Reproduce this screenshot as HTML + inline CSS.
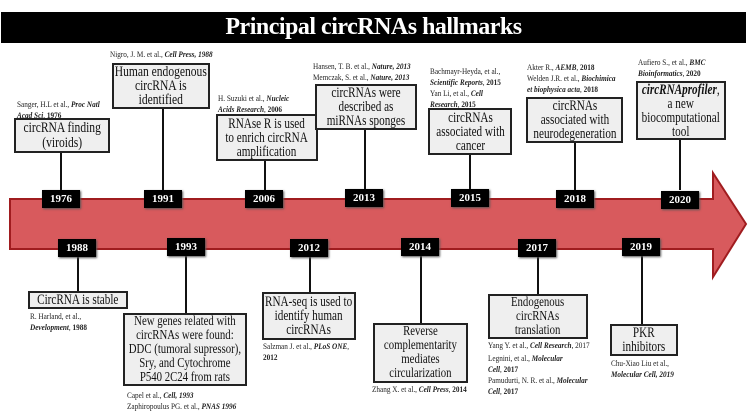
<!DOCTYPE html>
<html><head><meta charset="utf-8"><style>
body{margin:0;width:748px;height:420px;background:#fff;position:relative;overflow:hidden;font-family:"Liberation Serif",serif;}
.a{position:absolute;}
.box{position:absolute;background:#efefef;border:2px solid #222;box-sizing:border-box;text-align:center;color:#111;display:flex;align-items:center;justify-content:center;line-height:14px;}
.box>span{display:inline-block;white-space:nowrap;transform:scaleX(.77);}
.yr{position:absolute;background:#000;color:#fff;font-weight:bold;font-size:11px;width:38px;height:18px;line-height:18px;text-align:center;box-shadow:1px 1px 2px #555;}
.ln{position:absolute;width:2px;background:#111;}
.c{position:absolute;font-size:8.5px;line-height:11px;color:#222;white-space:nowrap;transform:scaleX(.85);transform-origin:0 0;}
.c b{font-style:italic;}
</style></head><body>
<div class="a" style="left:1px;top:12px;width:745px;height:31px;background:#000;color:#fff;font-weight:bold;font-size:24px;text-align:center;line-height:31px;letter-spacing:-0.5px">Principal circRNAs hallmarks</div>
<svg class="a" style="left:0;top:0" width="748" height="420"><polygon points="10,199 713,199 713,173 746,224 713,277 713,249 10,249" fill="#d85a5d" stroke="#a01c1f" stroke-width="2"/></svg>

<div class="ln" style="left:60px;top:152px;height:38px"></div>
<div class="ln" style="left:162px;top:108px;height:82px"></div>
<div class="ln" style="left:264px;top:160px;height:30px"></div>
<div class="ln" style="left:364px;top:129px;height:61px"></div>
<div class="ln" style="left:469px;top:154px;height:36px"></div>
<div class="ln" style="left:574px;top:142px;height:48px"></div>
<div class="ln" style="left:679px;top:139px;height:51px"></div>
<div class="ln" style="left:77px;top:256px;height:36px"></div>
<div class="ln" style="left:185px;top:256px;height:58px"></div>
<div class="ln" style="left:309px;top:256px;height:37px"></div>
<div class="ln" style="left:420px;top:256px;height:68px"></div>
<div class="ln" style="left:537px;top:256px;height:39px"></div>
<div class="ln" style="left:641px;top:256px;height:69px"></div>

<div class="yr" style="left:42px;top:190px">1976</div>
<div class="yr" style="left:144px;top:190px">1991</div>
<div class="yr" style="left:245px;top:190px">2006</div>
<div class="yr" style="left:345px;top:189px">2013</div>
<div class="yr" style="left:451px;top:189px">2015</div>
<div class="yr" style="left:556px;top:190px">2018</div>
<div class="yr" style="left:661px;top:191px">2020</div>
<div class="yr" style="left:58px;top:239px">1988</div>
<div class="yr" style="left:167px;top:238px">1993</div>
<div class="yr" style="left:290px;top:239px">2012</div>
<div class="yr" style="left:401px;top:238px">2014</div>
<div class="yr" style="left:518px;top:239px">2017</div>
<div class="yr" style="left:622px;top:238px">2019</div>

<div class="box" style="left:14px;top:118px;width:96px;height:35px;font-size:15px;line-height:15px"><span>circRNA finding<br>(viroids)</span></div>
<div class="c" style="left:17px;top:99px">Sanger, H.L et al., <b>Proc Natl</b><br><b>Acad Sci</b>, <b style="font-style:normal">1976</b></div>
<div class="box" style="left:112px;top:63px;width:98px;height:46px;font-size:15px"><span>Human endogenous<br>circRNA is<br>identified</span></div>
<div class="c" style="left:110px;top:49px">Nigro, J. M. et al., <b>Cell Press, 1988</b></div>
<div class="box" style="left:216px;top:114px;width:102px;height:47px;font-size:14.5px"><span>RNAse R is used<br>to enrich circRNA<br>amplification</span></div>
<div class="c" style="left:218px;top:93px">H. Suzuki et al., <b>Nucleic</b><br><b>Acids Research</b>, <b style="font-style:normal">2006</b></div>
<div class="box" style="left:315px;top:84px;width:102px;height:46px;font-size:14.5px"><span>circRNAs were<br>described as<br>miRNAs sponges</span></div>
<div class="c" style="left:313px;top:61px">Hansen, T. B. et al., <b>Nature, 2013</b><br>Memczak, S. et al., <b>Nature, 2013</b></div>
<div class="box" style="left:428px;top:108px;width:84px;height:47px;font-size:14.5px"><span>circRNAs<br>associated with<br>cancer</span></div>
<div class="c" style="left:430px;top:66px">Bachmayr-Heyda, et al.,<br><b>Scientific Reports</b>, <b style="font-style:normal">2015</b><br>Yan Li, et al., <b>Cell</b><br><b>Research</b>, <b style="font-style:normal">2015</b></div>
<div class="box" style="left:526px;top:97px;width:97px;height:46px;font-size:14.5px"><span>circRNAs<br>associated with<br>neurodegeneration</span></div>
<div class="c" style="left:527px;top:62px">Akter R., <b>AEMB</b>, <b style="font-style:normal">2018</b><br>Welden J.R. et al., <b>Biochimica</b><br><b>et biophysica acta</b>, <b style="font-style:normal">2018</b></div>
<div class="box" style="left:636px;top:81px;width:90px;height:59px;font-size:14.5px"><span><b><i>circRNAprofiler</i></b>,<br>a new<br>biocomputational<br>tool</span></div>
<div class="c" style="left:638px;top:57px">Aufiero S., et al., <b>BMC</b><br><b>Bioinformatics</b>, <b style="font-style:normal">2020</b></div>

<div class="box" style="left:28px;top:291px;width:100px;height:18px;font-size:14.5px"><span>CircRNA is stable</span></div>
<div class="c" style="left:30px;top:311px">R. Harland, et al.,<br><b>Development</b>, <b style="font-style:normal">1988</b></div>
<div class="box" style="left:123px;top:313px;width:124px;height:73px;font-size:14px"><span>New genes related with<br>circRNAs were found:<br>DDC (tumoral supressor),<br>Sry, and Cytochrome<br>P540 2C24 from rats</span></div>
<div class="c" style="left:127px;top:390px">Capel et al., <b>Cell, 1993</b><br>Zaphiropoulus PG. et al., <b>PNAS 1996</b></div>
<div class="box" style="left:262px;top:292px;width:94px;height:48px;font-size:14.5px"><span>RNA-seq is used to<br>identify human<br>circRNAs</span></div>
<div class="c" style="left:263px;top:341px">Salzman J. et al., <b>PLoS ONE</b>,<br><b style="font-style:normal">2012</b></div>
<div class="box" style="left:373px;top:323px;width:95px;height:60px;font-size:14px"><span>Reverse<br>complementarity<br>mediates<br>circularization</span></div>
<div class="c" style="left:372px;top:384px">Zhang X. et al., <b>Cell Press</b>, <b style="font-style:normal">2014</b></div>
<div class="box" style="left:488px;top:294px;width:100px;height:45px;font-size:14px"><span>Endogenous<br>circRNAs<br>translation</span></div>
<div class="c" style="left:488px;top:340px">Yang Y. et al., <b>Cell Research</b>, 2017</div>
<div class="c" style="left:488px;top:353px">Legnini, et al., <b>Molecular</b><br><b>Cell</b>, <b style="font-style:normal">2017</b><br>Pamudurti, N. R. et al., <b>Molecular</b><br><b>Cell</b>, <b style="font-style:normal">2017</b></div>
<div class="box" style="left:610px;top:324px;width:68px;height:32px;font-size:14.5px"><span>PKR<br>inhibitors</span></div>
<div class="c" style="left:611px;top:358px">Chu-Xiao Liu et al.,<br><b>Molecular Cell, 2019</b></div>
</body></html>
